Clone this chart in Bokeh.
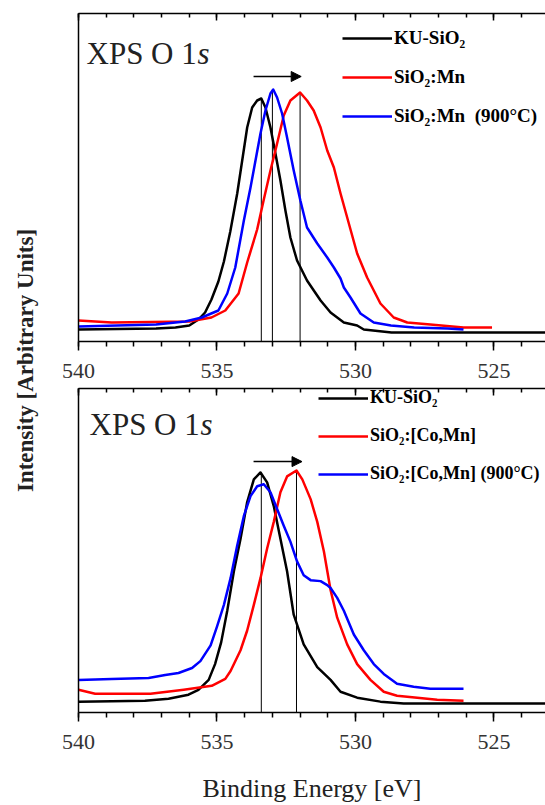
import math
from bokeh.plotting import figure
from bokeh.models import (Range1d, LinearAxis, SingleIntervalTicker, FixedTicker,
                          Legend, LegendItem, Label, Arrow, NormalHead)
from bokeh.layouts import row, column
from bokeh.embed import file_html
from bokeh.resources import INLINE

FONT = "Liberation Serif"

# ---------------- data (binding energy in eV, intensity in arbitrary units) ----------------
top_black_E = [540.0, 537.2, 536.5, 536.0, 535.67, 535.43, 535.2, 534.95, 534.75, 534.52, 534.27,
               534.09, 533.91, 533.73, 533.55, 533.40, 533.25, 533.07, 532.89, 532.71, 532.53,
               532.35, 532.11, 531.75, 531.26, 530.9, 530.42, 529.94, 529.7, 528.7, 523.1]
top_black_I = [12, 13, 14, 16, 22, 29, 42, 60, 80, 110, 148, 181, 214, 234, 241, 243, 234, 214,
               188, 161, 131, 104, 81, 61, 41, 29, 19, 16, 12, 9, 9]

top_red_E = [540.0, 538.8, 536.0, 535.2, 534.7, 534.22, 533.91, 533.55, 533.31, 533.07, 532.83,
             532.59, 532.35, 532.0, 531.75, 531.51, 531.26, 531.02, 530.78, 530.54, 530.3, 529.94,
             529.58, 529.1, 528.62, 528.13, 527.3, 526.1, 525.07]
top_red_I = [21, 19, 20, 24, 31, 48, 79, 112, 142, 171, 198, 226, 241, 249, 241, 231, 214, 191,
             174, 148, 124, 88, 64, 38, 24, 19, 17, 14, 14]

top_blue_E = [540.0, 537.2, 536.15, 535.55, 534.95, 534.63, 534.34, 534.03, 533.79, 533.61,
              533.43, 533.25, 533.07, 532.97, 532.83, 532.65, 532.47, 532.23, 531.99, 531.75,
              531.38, 531.02, 530.78, 530.54, 530.42, 530.18, 529.82, 529.34, 528.72, 527.88,
              526.67, 526.1]
top_blue_I = [15, 17, 20, 24, 31, 48, 74, 121, 154, 181, 208, 231, 248, 252, 244, 228, 204, 171,
              141, 114, 98, 84, 74, 63, 54, 44, 28, 19, 16, 14, 13, 12]

bot_black_E = [540.0, 537.6, 536.75, 536.03, 535.67, 535.3, 535.07, 534.85, 534.63, 534.39,
               534.15, 533.91, 533.67, 533.43, 533.19, 532.95, 532.71, 532.47, 532.23, 531.87,
               531.38, 530.9, 530.54, 529.94, 529.1, 528.26, 523.1]
bot_black_I = [11, 12, 14, 18, 23, 33, 49, 71, 103, 143, 176, 213, 236, 243, 233, 209, 176, 143,
               99, 69, 46, 33, 21, 15, 11, 9, 9]

bot_red_E = [540.0, 539.4, 537.4, 536.2, 535.19, 534.7, 534.51, 534.15, 533.91, 533.67, 533.43,
             533.19, 532.95, 532.71, 532.47, 532.13, 531.92, 531.62, 531.38, 531.14, 530.9,
             530.66, 530.3, 529.94, 529.46, 528.98, 528.5, 527.77, 527.05, 526.1]
bot_red_I = [23, 19, 19, 23, 27, 34, 42, 63, 83, 109, 136, 166, 193, 223, 239, 245, 236, 216,
             193, 163, 124, 96, 69, 49, 33, 21, 17, 15, 13, 12]

bot_blue_E = [540.0, 538.8, 537.47, 536.87, 536.39, 535.9, 535.6, 535.23, 535.0, 534.75, 534.51,
              534.27, 534.03, 533.79, 533.55, 533.31, 533.07, 532.83, 532.59, 532.35, 532.11,
              531.87, 531.62, 531.26, 531.02, 530.9, 530.66, 530.42, 530.06, 529.7, 529.34,
              528.98, 528.5, 527.9, 527.3, 526.1]
bot_blue_I = [33, 34, 35, 38, 40, 45, 52, 68, 87, 109, 136, 169, 199, 219, 229, 231, 223, 206,
              189, 173, 153, 139, 134, 133, 129, 126, 116, 103, 79, 63, 49, 39, 29, 26, 24, 24]

top_labels = ["KU-SiO\u2082", "SiO\u2082:Mn", "SiO\u2082:Mn  (900\u00b0C)"]
bot_labels = ["KU-SiO\u2082", "SiO\u2082:[Co,Mn]", "SiO\u2082:[Co,Mn] (900\u00b0C)"]
colors = ["#000000", "#ff0000", "#0000ff"]

top_peak_E = [533.4, 533.0, 532.0]
top_peak_I = [243, 252, 249]
bot_peak_E = [533.4, 532.13]
bot_peak_I = [243, 245]

top_arrow = [533.68, 531.96, 265]   # start E, end E, intensity
bot_arrow = [533.68, 531.93, 254]

x_start, x_end = 540.0, 523.14
y_top = 328
tick_interval = 5


def make_panel(height, border_top, border_bottom, series, labels, peaks_E, peaks_I, arrow,
               legend_loc, title_x, legend_font, xlabel=None):
    p = figure(width=497, height=height, x_range=Range1d(x_start, x_end),
               y_range=Range1d(0, y_top), output_backend="svg", toolbar_location=None,
               min_border_left=30, min_border_right=0, min_border_top=border_top,
               min_border_bottom=border_bottom)
    p.outline_line_color = None
    p.grid.visible = False
    p.background_fill_color = "white"

    xa = p.xaxis[0]
    xa.ticker = SingleIntervalTicker(interval=tick_interval, num_minor_ticks=5)
    xa.major_tick_out = 9
    xa.major_tick_in = 0
    xa.minor_tick_out = 5
    xa.minor_tick_in = 0
    xa.axis_line_width = 1.5
    xa.major_tick_line_width = 1.5
    xa.minor_tick_line_width = 1.5
    xa.major_label_text_font = FONT
    xa.major_label_text_font_size = "22px"
    xa.major_label_text_color = "#333333"
    xa.major_label_standoff = 13
    if xlabel:
        xa.axis_label = xlabel
        xa.axis_label_text_font = FONT
        xa.axis_label_text_font_size = "26px"
        xa.axis_label_text_font_style = "normal"
        xa.axis_label_text_color = "#222222"
        xa.axis_label_standoff = 22

    top = LinearAxis(ticker=SingleIntervalTicker(interval=tick_interval, num_minor_ticks=5),
                     major_tick_in=7, major_tick_out=0, minor_tick_in=4, minor_tick_out=0,
                     major_label_text_font_size="1px", major_label_text_color=None,
                     major_label_standoff=0,
                     axis_line_width=1.5, major_tick_line_width=1.5, minor_tick_line_width=1.5)
    p.add_layout(top, "above")

    ya = p.yaxis[0]
    ya.ticker = FixedTicker(ticks=[])
    ya.major_tick_in = 0
    ya.major_tick_out = 0
    ya.minor_tick_in = 0
    ya.minor_tick_out = 0
    ya.major_label_standoff = 0
    ya.major_label_text_color = None
    ya.axis_line_width = 1.5

    y0 = [p.y_range.start] * len(peaks_E)
    p.segment(x0=peaks_E, y0=y0, x1=peaks_E, y1=peaks_I, line_color="black", line_width=1)

    items = []
    for (E, I), lab, c in zip(series, labels, colors):
        r = p.line(E, I, line_color=c, line_width=2.5, line_join="round")
        items.append(LegendItem(label=lab, renderers=[r]))

    p.add_layout(Arrow(x_start=arrow[0], y_start=arrow[2], x_end=arrow[1], y_end=arrow[2],
                       line_width=1.5, line_color="black",
                       end=NormalHead(size=10, fill_color="black", line_color="black")))

    leg = Legend(items=items, location=legend_loc, glyph_width=50, glyph_height=20,
                 label_height=20, spacing=17, padding=0, margin=0, label_standoff=2,
                 border_line_color=None, background_fill_alpha=0,
                 label_text_font=FONT, label_text_font_style="bold",
                 label_text_font_size=legend_font, label_text_color="black")
    p.add_layout(leg)

    p.add_layout(Label(x=title_x, y=y_top - 40, x_units="screen", y_units="screen",
                       text="XPS O 1", text_font=FONT, text_font_size="31px",
                       text_color="#222222", text_baseline="alphabetic"))
    p.add_layout(Label(x=title_x + 111, y=y_top - 40, x_units="screen", y_units="screen",
                       text="s", text_font=FONT, text_font_size="31px", text_font_style="italic",
                       text_color="#222222", text_baseline="alphabetic"))
    return p


p1 = make_panel(384, 13, 43,
                [(top_black_E, top_black_I), (top_red_E, top_red_I), (top_blue_E, top_blue_I)],
                top_labels, top_peak_E, top_peak_I, top_arrow, (264, 214), 8, "19px")
p2 = make_panel(421, 4, 89,
                [(bot_black_E, bot_black_I), (bot_red_E, bot_red_I), (bot_blue_E, bot_blue_I)],
                bot_labels, bot_peak_E, bot_peak_I, bot_arrow, (240, 228), 11, "18px",
                xlabel="Binding Energy [eV]")

lab = figure(width=48, height=805, x_range=Range1d(0, 1), y_range=Range1d(0, 1),
             output_backend="svg", toolbar_location=None, min_border=0,
             x_axis_location=None, y_axis_location=None)
lab.outline_line_color = None
lab.grid.visible = False
lab.add_layout(Label(x=25, y=445, x_units="screen", y_units="screen", angle=math.pi / 2,
                     text="Intensity [Arbitrary Units]", text_font=FONT,
                     text_font_style="bold", text_font_size="23px", text_color="#222222",
                     text_align="center", text_baseline="middle"))

layout = row(lab, column(p1, p2))
open("out.html", "w").write(file_html(layout, INLINE))
